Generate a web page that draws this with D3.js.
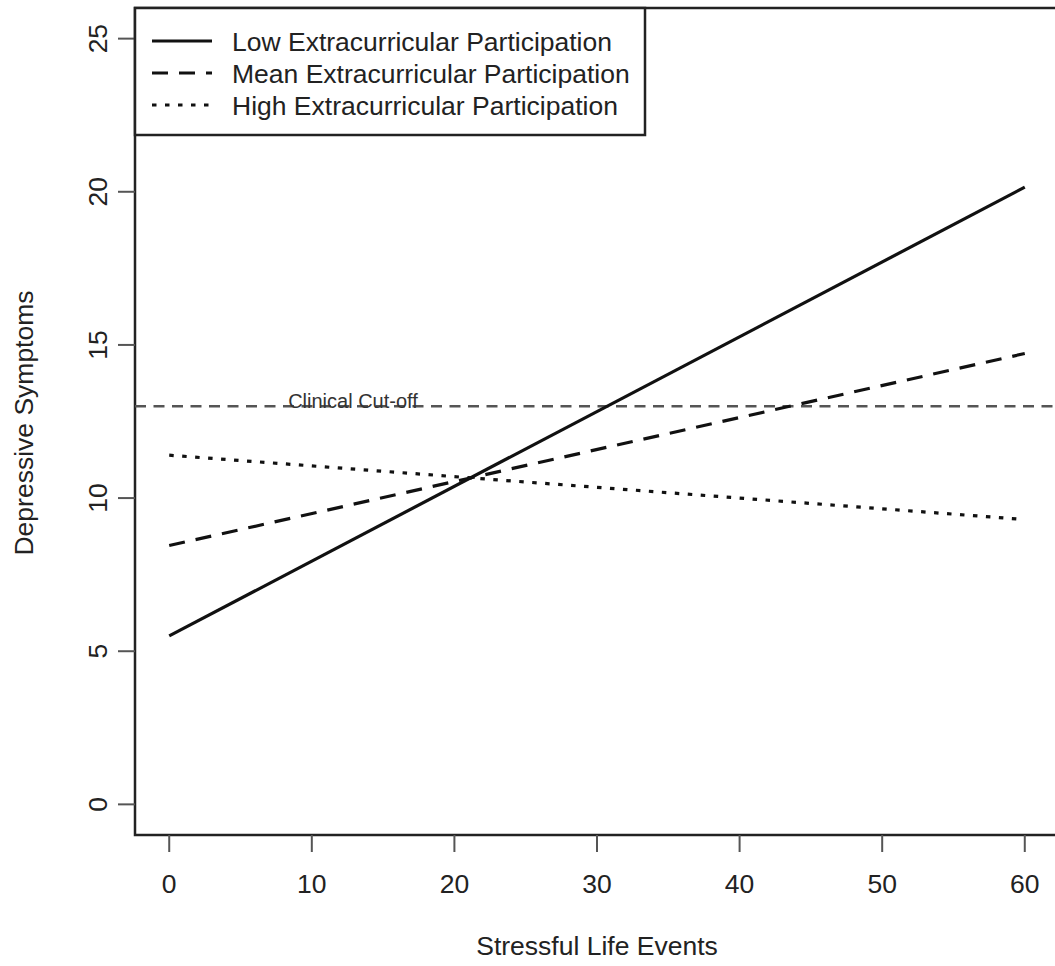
<!DOCTYPE html>
<html>
<head>
<meta charset="utf-8">
<script src="https://cdn.jsdelivr.net/npm/d3@7"></script>
<style>
  body { margin: 0; background: #fff; }
  text { font-family: "Liberation Sans", Arial, sans-serif; fill: #222; }
</style>
</head>
<body>
<svg width="1055" height="966"></svg>
<script>
// data
var events = [0, 60];
var lowPart = [5.5, 20.15];
var meanPart = [8.45, 14.72];
var highPart = [11.4, 9.3];
var cutoff = 13;
var xTicks = [0, 10, 20, 30, 40, 50, 60];
var yTicks = [0, 5, 10, 15, 20, 25];
var seriesNames = ["Low Extracurricular Participation", "Mean Extracurricular Participation", "High Extracurricular Participation"];
var dashes = [null, "16,11", "4.5,8.5"];

var svg = d3.select("svg");
var box = { left: 135, top: 8, right: 1059, bottom: 835 };
var fs = 26.5;

// R style 4% padding around data range
var x = d3.scaleLinear().domain([-2.4, 62.4]).range([box.left, box.right]);
var y = d3.scaleLinear().domain([-1, 26]).range([box.bottom, box.top]);

// plot box
svg.append("rect")
  .attr("x", box.left).attr("y", box.top)
  .attr("width", box.right - box.left).attr("height", box.bottom - box.top)
  .attr("fill", "none").attr("stroke", "#222").attr("stroke-width", 2.5);

// x axis ticks
var gx = svg.append("g");
gx.selectAll("line").data(xTicks).enter().append("line")
  .attr("x1", function(d) { return x(d); }).attr("x2", function(d) { return x(d); })
  .attr("y1", box.bottom).attr("y2", box.bottom + 17)
  .attr("stroke", "#555").attr("stroke-width", 2);
gx.selectAll("text").data(xTicks).enter().append("text")
  .attr("x", function(d) { return x(d); }).attr("y", 893)
  .attr("text-anchor", "middle").attr("font-size", fs)
  .text(function(d) { return d; });

// y axis ticks
var gy = svg.append("g");
gy.selectAll("line").data(yTicks).enter().append("line")
  .attr("y1", function(d) { return y(d); }).attr("y2", function(d) { return y(d); })
  .attr("x1", box.left).attr("x2", box.left - 17)
  .attr("stroke", "#555").attr("stroke-width", 2);
gy.selectAll("text").data(yTicks).enter().append("text")
  .attr("transform", function(d) { return "translate(107," + y(d) + ") rotate(-90)"; })
  .attr("text-anchor", "middle").attr("font-size", fs)
  .text(function(d) { return d; });

// axis titles
svg.append("text").attr("x", 597).attr("y", 955)
  .attr("text-anchor", "middle").attr("font-size", fs)
  .text("Stressful Life Events");
svg.append("text").attr("transform", "translate(33,423) rotate(-90)")
  .attr("text-anchor", "middle").attr("font-size", fs)
  .text("Depressive Symptoms");

// clinical cut-off
svg.append("line")
  .attr("x1", box.left).attr("x2", box.right)
  .attr("y1", y(cutoff)).attr("y2", y(cutoff))
  .attr("stroke", "#555").attr("stroke-width", 2.5)
  .attr("stroke-dasharray", "11,7.5");
svg.append("text").attr("x", 353).attr("y", y(cutoff) + 2)
  .attr("text-anchor", "middle").attr("font-size", 20).style("fill", "#333")
  .text("Clinical Cut-off");

// the three lines
var series = [lowPart, meanPart, highPart];
var line = d3.line()
  .x(function(d, i) { return x(events[i]); })
  .y(function(d) { return y(d); });

svg.selectAll("path.series").data(series).enter().append("path")
  .attr("class", "series")
  .attr("d", line)
  .attr("fill", "none").attr("stroke", "#111").attr("stroke-width", 3.2)
  .attr("stroke-dasharray", function(d, i) { return dashes[i]; });

// legend
var leg = svg.append("g");
leg.append("rect").attr("x", box.left).attr("y", box.top)
  .attr("width", 510).attr("height", 127)
  .attr("fill", "#fff").attr("stroke", "#222").attr("stroke-width", 2.5);
var rows = leg.selectAll("g.row").data(seriesNames).enter().append("g")
  .attr("class", "row")
  .attr("transform", function(d, i) { return "translate(0," + (41 + i * 32) + ")"; });
rows.append("line").attr("x1", 152).attr("x2", 212).attr("y1", 0).attr("y2", 0)
  .attr("stroke", "#111").attr("stroke-width", 3.2)
  .attr("stroke-dasharray", function(d, i) { return dashes[i]; });
rows.append("text").attr("x", 232).attr("y", 9.5).attr("font-size", fs)
  .text(function(d) { return d; });
</script>
</body>
</html>
